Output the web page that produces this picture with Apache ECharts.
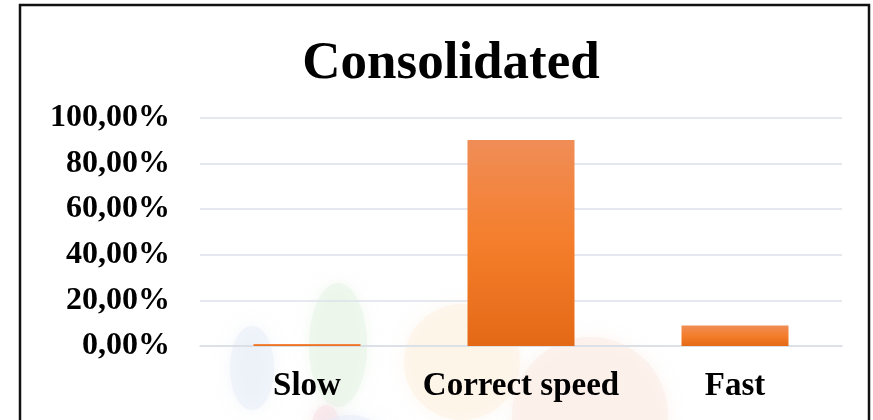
<!DOCTYPE html>
<html>
<head>
<meta charset="utf-8">
<script src="https://cdn.jsdelivr.net/npm/echarts@6/dist/echarts.min.js"></script>
<style>
  html, body { margin: 0; padding: 0; background: #ffffff; }
  #chart { width: 873px; height: 420px; }
</style>
</head>
<body>
<div id="chart"></div>
<script>
// Share of responses per speed rating, in percent
const categories = ['Slow', 'Correct speed', 'Fast'];
const shares = [0.9, 90.3, 9.0];
const yTicks = { min: 0, max: 100, interval: 20 };
const chartTitle = 'Consolidated';

const serif = "'Liberation Serif', 'DejaVu Serif', serif";

// Orange bar fill, lighter at the top and deeper at the base
const barFill = new echarts.graphic.LinearGradient(0, 0, 0, 1, [
  { offset: 0, color: '#F08D57' },
  { offset: 0.5, color: '#F47E2B' },
  { offset: 1, color: '#E46917' }
]);

// Faint, soft background emblem drawn behind the plot
const emblem = [
  { type: 'ellipse', shape: { cx: 252, cy: 368, rx: 22, ry: 42 }, style: { fill: '#E8EEF8' } },
  { type: 'ellipse', shape: { cx: 338, cy: 345, rx: 29, ry: 62 }, style: { fill: '#E6F3E4' } },
  { type: 'circle', shape: { cx: 462, cy: 362, r: 58 }, style: { fill: '#FDF2E1' } },
  { type: 'circle', shape: { cx: 590, cy: 415, r: 78 }, style: { fill: '#FCEBE4' } },
  { type: 'ellipse', shape: { cx: 326, cy: 425, rx: 14, ry: 20 }, style: { fill: '#F8E0E4' } },
  { type: 'circle', shape: { cx: 350, cy: 460, r: 45 }, style: { fill: '#E6ECF8' } }
].map(e => Object.assign(e, {
  z: -10,
  silent: true,
  style: Object.assign(e.style, { opacity: 0.5, shadowBlur: 14, shadowColor: e.style.fill })
}));

const chart = echarts.init(document.getElementById('chart'), null, { renderer: 'canvas' });

chart.setOption({
  animation: false,
  backgroundColor: '#ffffff',
  title: {
    text: chartTitle,
    left: 446,
    top: 33,
    textAlign: 'center',
    textStyle: { fontFamily: serif, fontWeight: 'bold', fontSize: 53, color: '#000000' }
  },
  grid: { left: 200, right: 31, top: 118, bottom: 74, containLabel: false },
  xAxis: {
    type: 'category',
    data: categories,
    axisLine: { show: true, lineStyle: { color: '#D9DEE6', width: 1.5 } },
    axisTick: { show: false },
    axisLabel: {
      interval: 0,
      margin: 24,
      fontFamily: serif,
      fontWeight: 'bold',
      fontSize: 33,
      color: '#000000'
    }
  },
  yAxis: {
    type: 'value',
    min: yTicks.min,
    max: yTicks.max,
    interval: yTicks.interval,
    axisLine: { show: false },
    axisTick: { show: false },
    splitLine: { lineStyle: { color: '#DDE2EA', width: 1.5 } },
    axisLabel: {
      margin: 30,
      padding: [6, 0, 0, 0],
      fontFamily: serif,
      fontWeight: 'bold',
      fontSize: 32,
      color: '#000000',
      formatter: v => v.toFixed(2).replace('.', ',') + '%'
    }
  },
  series: [{
    type: 'bar',
    data: shares,
    barWidth: '50%',
    itemStyle: { color: barFill },
    z: 2
  }],
  graphic: emblem.concat([{
    type: 'rect',
    silent: true,
    z: 100,
    shape: { x: 20, y: 5, width: 849, height: 425 },
    style: { fill: null, stroke: '#111111', lineWidth: 2.5 }
  }])
});
</script>
</body>
</html>
